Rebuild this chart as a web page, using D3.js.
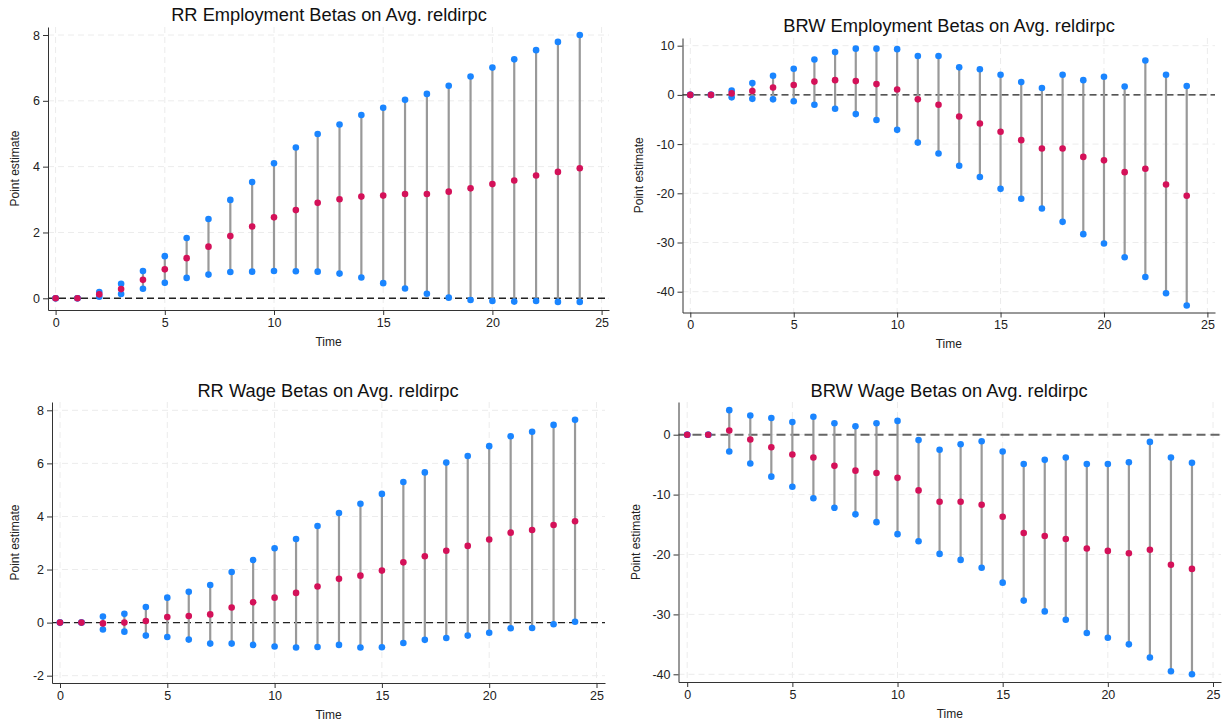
<!DOCTYPE html>
<html>
<head>
<meta charset="utf-8">
<script src="https://cdn.jsdelivr.net/npm/d3@7"></script>
<style>
  body { margin: 0; background: #fff; }
  svg { font-family: "Liberation Sans", Arial, sans-serif; }
  .grid line { stroke: #ececec; stroke-dasharray: 6,4; }
  .axis path, .axis line { stroke: #333; }
  .axis text { fill: #222; font-size: 12.5px; }
</style>
</head>
<body>
<div id="chart"></div>
<script>
// data
var time = d3.range(0, 25);

var rrEmpEst = [0, 0, 0.12, 0.28, 0.56, 0.88, 1.22, 1.57, 1.89, 2.18, 2.46, 2.68, 2.90, 3.01, 3.09, 3.12, 3.17, 3.17, 3.24, 3.34, 3.47, 3.58, 3.73, 3.84, 3.95];
var rrEmpHi = [0, 0, 0.19, 0.44, 0.83, 1.28, 1.83, 2.41, 2.99, 3.53, 4.10, 4.58, 4.99, 5.28, 5.57, 5.79, 6.03, 6.21, 6.46, 6.74, 7.01, 7.26, 7.54, 7.79, 8.00];
var rrEmpLo = [0, 0, 0.05, 0.13, 0.29, 0.47, 0.62, 0.72, 0.80, 0.81, 0.83, 0.82, 0.81, 0.75, 0.63, 0.46, 0.30, 0.14, 0.02, -0.05, -0.08, -0.10, -0.08, -0.11, -0.11];

var brwEmpEst = [0, 0, 0.3, 0.8, 1.5, 2.0, 2.7, 3.0, 2.8, 2.2, 1.1, -0.9, -2.0, -4.4, -5.8, -7.5, -9.2, -10.9, -10.9, -12.6, -13.3, -15.7, -15.0, -18.2, -20.5];
var brwEmpHi = [0, 0, 0.9, 2.4, 3.9, 5.3, 7.2, 8.7, 9.4, 9.4, 9.3, 7.9, 7.9, 5.6, 5.2, 4.1, 2.6, 1.4, 4.1, 3.0, 3.7, 1.7, 7.0, 4.1, 1.8];
var brwEmpLo = [0, 0, -0.5, -0.8, -0.9, -1.3, -2.0, -2.8, -3.9, -5.1, -7.1, -9.7, -11.9, -14.4, -16.7, -19.1, -21.1, -23.1, -25.8, -28.3, -30.2, -33.0, -37.0, -40.3, -42.8];

var rrWageEst = [0, 0, -0.03, 0, 0.06, 0.21, 0.25, 0.31, 0.57, 0.77, 0.94, 1.12, 1.36, 1.65, 1.77, 1.96, 2.27, 2.50, 2.71, 2.89, 3.13, 3.39, 3.49, 3.68, 3.82];
var rrWageHi = [0, 0, 0.23, 0.33, 0.59, 0.94, 1.16, 1.42, 1.91, 2.36, 2.80, 3.15, 3.64, 4.13, 4.48, 4.85, 5.30, 5.66, 6.03, 6.28, 6.65, 7.02, 7.19, 7.45, 7.64];
var rrWageLo = [0, 0, -0.26, -0.34, -0.49, -0.54, -0.64, -0.79, -0.79, -0.84, -0.90, -0.94, -0.92, -0.84, -0.94, -0.93, -0.77, -0.65, -0.58, -0.49, -0.38, -0.21, -0.20, -0.06, 0.03];

var brwWageEst = [0, 0, 0.7, -0.8, -2.1, -3.3, -3.8, -5.2, -6.0, -6.4, -7.2, -9.3, -11.2, -11.2, -11.7, -13.7, -16.4, -16.9, -17.4, -19.0, -19.4, -19.8, -19.2, -21.7, -22.4];
var brwWageHi = [0, 0, 4.1, 3.2, 2.8, 2.1, 3.0, 1.9, 1.4, 1.9, 2.3, -0.9, -2.5, -1.6, -1.1, -2.8, -4.9, -4.2, -3.8, -4.9, -4.9, -4.6, -1.2, -3.8, -4.7];
var brwWageLo = [0, 0, -2.8, -4.8, -7.0, -8.7, -10.6, -12.2, -13.3, -14.6, -16.6, -17.8, -19.9, -20.9, -22.2, -24.7, -27.7, -29.5, -30.9, -33.1, -33.9, -35.0, -37.2, -39.5, -40.0];

var xTicks = [0, 5, 10, 15, 20, 25];
var rrEmpTicks = [0, 2, 4, 6, 8];
var brwEmpTicks = [-40, -30, -20, -10, 0, 10];
var rrWageTicks = [-2, 0, 2, 4, 6, 8];
var brwWageTicks = [-40, -30, -20, -10, 0];

var titles = [
    "RR Employment Betas on Avg. reldirpc",
    "BRW Employment Betas on Avg. reldirpc",
    "RR Wage Betas on Avg. reldirpc",
    "BRW Wage Betas on Avg. reldirpc"
];

// layout of each panel (pixels)
var panels = [
    { est: rrEmpEst, hi: rrEmpHi, lo: rrEmpLo, yTicks: rrEmpTicks, yDom: [0, 8],
      xr: [55.6, 601.6], yr: [298.3, 35], left: 48, top: 27, bottom: 310, right: 609,
      titleX: 329, titleY: 20.5, ylabX: 19, xlabY: 346, zero: "#222" },
    { est: brwEmpEst, hi: brwEmpHi, lo: brwEmpLo, yTicks: brwEmpTicks, yDom: [-40, 10],
      xr: [690.3, 1207.4], yr: [291.7, 45.7], left: 682.5, top: 38, bottom: 312.5, right: 1215,
      titleX: 949, titleY: 31.5, ylabX: 643, xlabY: 348, zero: "#222" },
    { est: rrWageEst, hi: rrWageHi, lo: rrWageLo, yTicks: rrWageTicks, yDom: [-2, 8],
      xr: [60, 596.5], yr: [675.7, 410.3], left: 52, top: 402, bottom: 683, right: 605,
      titleX: 328, titleY: 396.5, ylabX: 19, xlabY: 719, zero: "#222" },
    { est: brwWageEst, hi: brwWageHi, lo: brwWageLo, yTicks: brwWageTicks, yDom: [-40, 0],
      xr: [687.2, 1213], yr: [674.3, 434.7], left: 678.5, top: 402, bottom: 682, right: 1221,
      titleX: 949, titleY: 396.5, ylabX: 640, xlabY: 718, zero: "#666" }
];

// plain hyphen for negatives, like the original
var fmt = function (d) { return String(d); };

var svg = d3.select('#chart')
    .append('svg')
    .attr('width', 1223)
    .attr('height', 725);

panels.forEach(function (p, i) {
    var x = d3.scaleLinear().domain([0, 25]).range(p.xr);
    var y = d3.scaleLinear().domain(p.yDom).range(p.yr);

    // axis scales stretched to the full plot box so the axis line runs its length
    var xAxisScale = x.copy().domain([x.invert(p.left), x.invert(p.right)]).range([p.left, p.right]);
    var yAxisScale = y.copy().domain([y.invert(p.bottom), y.invert(p.top)]).range([p.bottom, p.top]);

    var g = svg.append('g');

    // grid
    var grid = g.append('g').attr('class', 'grid');
    grid.selectAll('line.gy')
        .data(p.yTicks)
        .enter()
        .append('line')
        .attr('x1', p.left).attr('x2', p.right)
        .attr('y1', function (d) { return y(d); })
        .attr('y2', function (d) { return y(d); });
    grid.selectAll('line.gx')
        .data(xTicks)
        .enter()
        .append('line')
        .attr('x1', function (d) { return x(d); })
        .attr('x2', function (d) { return x(d); })
        .attr('y1', p.top).attr('y2', p.bottom);

    // zero line
    g.append('line')
        .attr('x1', p.left).attr('x2', p.right)
        .attr('y1', y(0)).attr('y2', y(0))
        .attr('stroke', p.zero)
        .attr('stroke-width', i == 3 ? 2 : 1.4)
        .attr('stroke-dasharray', i == 3 ? '9,5' : '7,4');

    // confidence bars
    g.selectAll('line.ci')
        .data(time)
        .enter()
        .append('line')
        .attr('x1', function (d) { return x(d); })
        .attr('x2', function (d) { return x(d); })
        .attr('y1', function (d) { return y(p.lo[d]); })
        .attr('y2', function (d) { return y(p.hi[d]); })
        .attr('stroke', '#999')
        .attr('stroke-width', 2.2);

    // bounds
    g.selectAll('circle.hi')
        .data(time)
        .enter()
        .append('circle')
        .attr('cx', function (d) { return x(d); })
        .attr('cy', function (d) { return y(p.hi[d]); })
        .attr('r', 3.3)
        .attr('fill', '#1a85ff');
    g.selectAll('circle.lo')
        .data(time)
        .enter()
        .append('circle')
        .attr('cx', function (d) { return x(d); })
        .attr('cy', function (d) { return y(p.lo[d]); })
        .attr('r', 3.3)
        .attr('fill', '#1a85ff');

    // point estimates
    g.selectAll('circle.est')
        .data(time)
        .enter()
        .append('circle')
        .attr('cx', function (d) { return x(d); })
        .attr('cy', function (d) { return y(p.est[d]); })
        .attr('r', 3.3)
        .attr('fill', '#d41159');

    // axes
    g.append('g')
        .attr('class', 'axis')
        .attr('transform', `translate(0,${p.bottom})`)
        .call(d3.axisBottom(xAxisScale).tickValues(xTicks).tickFormat(fmt).tickSize(5).tickSizeOuter(0).tickPadding(3));

    g.append('g')
        .attr('class', 'axis')
        .attr('transform', `translate(${p.left},0)`)
        .call(d3.axisLeft(yAxisScale).tickValues(p.yTicks).tickFormat(fmt).tickSize(5).tickSizeOuter(0).tickPadding(3));

    // titles
    g.append('text')
        .attr('x', p.titleX)
        .attr('y', p.titleY)
        .attr('text-anchor', 'middle')
        .attr('font-size', 18.3)
        .attr('fill', '#111')
        .text(titles[i]);

    g.append('text')
        .attr('x', (p.left + p.right) / 2)
        .attr('y', p.xlabY)
        .attr('text-anchor', 'middle')
        .attr('font-size', 12)
        .attr('fill', '#222')
        .text('Time');

    g.append('text')
        .attr('transform', `translate(${p.ylabX},${(p.top + p.bottom) / 2}) rotate(-90)`)
        .attr('text-anchor', 'middle')
        .attr('font-size', 12)
        .attr('fill', '#222')
        .text('Point estimate');
});
</script>
</body>
</html>
